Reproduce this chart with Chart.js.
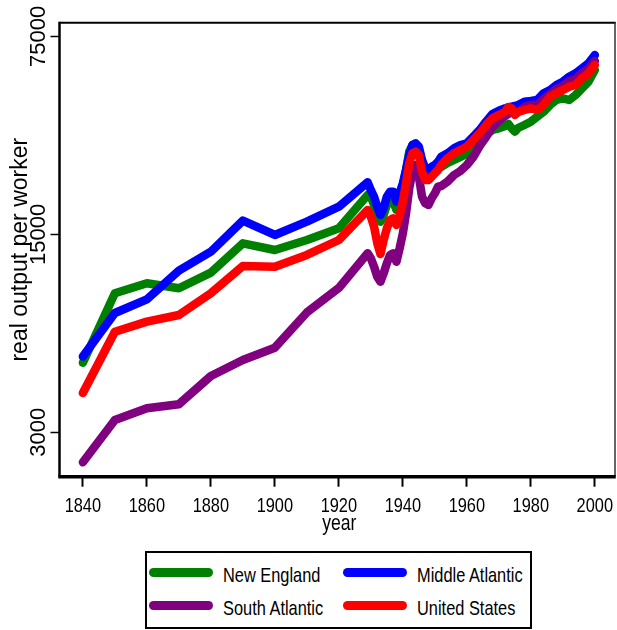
<!DOCTYPE html>
<html><head><meta charset="utf-8">
<script src="https://cdn.jsdelivr.net/npm/chart.js@4.4.1/dist/chart.umd.min.js"></script>
<style>
html,body{margin:0;padding:0;background:#fff;overflow:hidden}
#wrap{position:relative;width:617px;height:630px}
#legend{position:absolute;left:145px;top:551px;width:387px;height:78px;border:2px solid #000;box-sizing:border-box;background:#fff}
.sw{position:absolute;width:64px;height:9px;border-radius:5px}
.lt{position:absolute;font-family:'Liberation Sans',Arial,sans-serif;font-size:21px;line-height:21px;color:#000;white-space:nowrap;transform:scaleX(0.78);transform-origin:0 50%}
</style></head><body>
<div id="wrap"><canvas id="c" width="617" height="630"></canvas><div id="legend"></div></div>
<script>
const seriesNames = ['New England', 'Middle Atlantic', 'South Atlantic', 'United States'];
const seriesColors = ['#008000', '#0000ff', '#800080', '#ff0000'];
const xTicks = [1840, 1860, 1880, 1900, 1920, 1940, 1960, 1980, 2000];
const xTickLabels = ['1840', '1860', '1880', '1900', '1920', '1940', '1960', '1980', '2000'];
const yTicks = [3000, 15000, 75000];
const yTickLabels = ['3000', '15000', '75000'];
const xTitle = 'year';
const yTitle = 'real output per worker';

const years = [1840,1850,1860,1870,1880,1890,1900,1910,1920,
 1929,1930,1931,1932,1933,1934,1935,1936,1937,1938,1939,1940,1941,1942,1943,1944,1945,1946,1947,1948,1949,1950,1951,
 1952,1954,1956,1958,1960,1962,1964,1966,1968,1970,
 1972,1973,1974,1975,1976,
 1978,1980,1982,1984,1986,1988,1990,1992,1994,1996,1998,2000];

const newEngland = [5280,9285,10070,9670,10980,13940,13200,14320,15750,
 20650,20360,19040,17790,16620,17550,19040,19820,19550,18280,19820,22090,25300,29360,31000,31000,29770,25990,24630,24290,24950,25650,26350,
 25920,26780,27440,28120,28820,29290,31510,33630,35020,35510,
 36180,36780,35510,34540,35600,
 36480,37470,39020,40640,42920,44700,45320,44700,46550,49160,51870,57050];

const middleAtlantic = [5550,7910,8840,11160,13020,16760,14920,16620,18770,
 22900,21500,20360,18770,17550,18580,20360,21210,21210,19550,20930,22710,25300,28580,31000,31430,30580,27440,25650,24950,25990,26350,27060,
 28190,28980,30180,31000,31430,33170,35020,37470,39890,40970,
 41780,42060,42330,42570,42920,
 44080,44330,44700,47200,48480,50490,51870,54020,55530,57840,60240,64440];

const southAtlantic = [2350,3315,3645,3766,4740,5400,5966,7943,9693,
 12850,12340,11530,10630,10200,10920,11850,12680,12850,12000,13390,15120,17790,21800,24950,26350,23960,20360,19300,19040,20100,20930,22090,
 22210,23040,24290,25100,26350,28120,30750,33090,35890,37680,
 39250,39890,40540,39890,40540,
 42230,42920,42920,45070,46930,48880,50090,52160,53020,55670,57510,61370];

const unitedStates = [4128,6795,7371,7784,9285,11590,11530,12680,14320,
 18280,17310,15960,13980,12780,14320,15750,16850,17080,16180,17550,19550,22710,26720,28980,29360,28580,24950,23320,23320,23960,24630,25300,
 26350,27830,28980,29770,30580,32290,34100,36480,38520,39570,
 40640,42230,41780,39570,40540,
 41210,41780,41210,42920,45910,47200,48480,49800,50490,53320,55530,59410];

const seriesValues = [newEngland, middleAtlantic, southAtlantic, unitedStates];
const drawOrder = [3, 2, 1, 0];

const REG = "'Liberation Sans', Arial, sans-serif";

const framePlugin = {
  id: 'frame',
  afterDraw(chart) {
    const {ctx, chartArea: a} = chart;
    const line = (x1, y1, x2, y2) => { ctx.beginPath(); ctx.moveTo(x1, y1); ctx.lineTo(x2, y2); ctx.stroke(); };
    ctx.save();
    ctx.lineCap = 'butt';
    ctx.strokeStyle = '#000'; ctx.lineWidth = 2; line(a.left, a.top, a.right + 0.75, a.top);
    ctx.strokeStyle = '#333'; ctx.lineWidth = 1.5; line(a.right, a.top, a.right, a.bottom);
    ctx.strokeStyle = '#000'; ctx.lineWidth = 2.5; line(a.left, a.top - 1, a.left, a.bottom);
    ctx.lineWidth = 3.5; line(a.left - 1.25, a.bottom, a.right + 0.75, a.bottom);

    ctx.fillStyle = '#000';
    // y tick labels (rotated)
    const ys = chart.scales.y;
    ctx.font = '22px ' + REG;
    ctx.textAlign = 'center';
    ctx.textBaseline = 'alphabetic';
    ys.ticks.forEach((t) => {
      const idx = yTicks.indexOf(t.value);
      const py = ys.getPixelForValue(t.value);
      ctx.save(); ctx.translate(45, py); ctx.rotate(-Math.PI / 2);
      ctx.fillText(yTickLabels[idx], 0, 0);
      ctx.restore();
    });
    // x tick labels (condensed)
    const xs = chart.scales.x;
    ctx.font = '21px ' + REG;
    xs.ticks.forEach((t) => {
      const idx = xTicks.indexOf(t.value);
      const px = xs.getPixelForValue(t.value);
      ctx.save(); ctx.translate(px, a.bottom + 35); ctx.scale(0.78, 1);
      ctx.fillText(xTickLabels[idx], 0, 0);
      ctx.restore();
    });
    // x axis title
    ctx.font = '22px ' + REG;
    ctx.save(); ctx.translate((a.left + a.right) / 2 + 2, a.bottom + 53); ctx.scale(0.8, 1);
    ctx.fillText(xTitle, 0, 0);
    ctx.restore();
    ctx.restore();
  }
};

const datasets = seriesNames.map((name, i) => ({
  label: name,
  data: years.map((yr, j) => ({x: yr, y: seriesValues[i][j]})),
  borderColor: seriesColors[i],
  backgroundColor: seriesColors[i],
  borderWidth: 8.5,
  borderJoinStyle: 'round',
  borderCapStyle: 'round',
  pointRadius: 0,
  tension: 0,
  fill: false,
  order: drawOrder[i]
}));

new Chart(document.getElementById('c'), {
  type: 'line',
  data: { datasets },
  plugins: [framePlugin],
  options: {
    responsive: false,
    devicePixelRatio: 1,
    animation: false,
    layout: { padding: { left: 0, top: 22.7, right: 2, bottom: 83.3 } },
    plugins: { legend: { display: false }, tooltip: { enabled: false } },
    scales: {
      x: {
        type: 'linear',
        min: 1832.7, max: 2006.3,
        afterBuildTicks: s => { s.ticks = xTicks.map(v => ({value: v})); },
        afterFit: s => { s.height = 70; },
        ticks: { display: false },
        grid: { drawOnChartArea: false, drawTicks: true, tickLength: 10, tickWidth: 2, tickColor: '#000' },
        border: { display: false }
      },
      y: {
        type: 'logarithmic',
        min: 2090, max: 83800,
        afterBuildTicks: s => { s.ticks = yTicks.map(v => ({value: v})); },
        afterFit: s => { s.width = 59.5; },
        ticks: { display: false },
        grid: { drawOnChartArea: false, drawTicks: true, tickLength: 9, tickWidth: 1.5, tickColor: '#000' },
        border: { display: false },
        title: { display: true, text: yTitle, color: '#000', font: { family: REG, size: 23 }, padding: { top: 7, bottom: 0 } }
      }
    }
  }
});

const leg = document.getElementById('legend');
const swLeft = [2, 196], txLeft = [76, 270], swTop = [15, 48], txTop = [11, 44];
seriesNames.forEach((name, i) => {
  const col = i % 2, row = Math.floor(i / 2);
  const sw = document.createElement('div');
  sw.className = 'sw';
  sw.style.left = swLeft[col] + 'px'; sw.style.top = swTop[row] + 'px';
  sw.style.background = seriesColors[i];
  leg.appendChild(sw);
  const tx = document.createElement('div');
  tx.className = 'lt';
  tx.style.left = txLeft[col] + 'px'; tx.style.top = txTop[row] + 'px';
  tx.textContent = name;
  leg.appendChild(tx);
});
</script>
</body></html>
